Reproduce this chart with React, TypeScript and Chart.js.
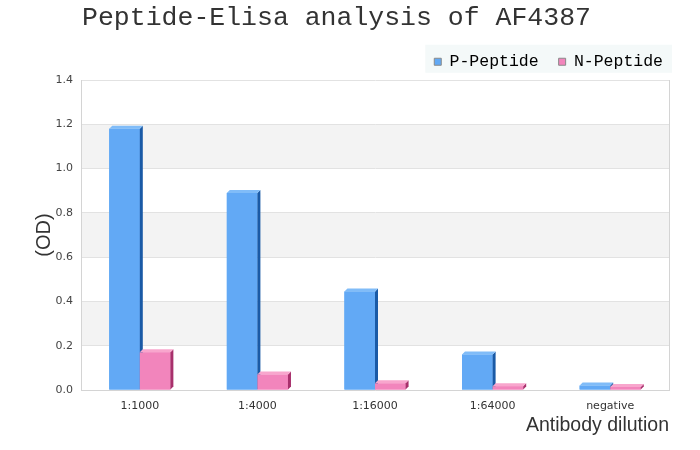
import React, { useEffect, useRef } from 'react';
import { Chart, registerables } from 'chart.js';

Chart.register(...registerables);

const categories = ['1:1000', '1:4000', '1:16000', '1:64000', 'negative'];
const pPeptide = [1.18, 0.89, 0.445, 0.16, 0.02];
const nPeptide = [0.17, 0.07, 0.03, 0.017, 0.014];
const seriesNames = ['P-Peptide', 'N-Peptide'];
const chartTitle = 'Peptide-Elisa analysis of AF4387';
const xTitle = 'Antibody dilution';
const yTitle = '(OD)';
const yMin = 0;
const yMax = 1.4;
const yStep = 0.2;

const frontColors = ['#62a9f5', '#f285bc'];
const sideColors = ['#1a5aa6', '#a8306c'];
const topColors = ['#80bcf8', '#f8a6cd'];
const DEPTH = 3;

const bandsPlugin = {
  id: 'bands',
  beforeDraw(chart: any) {
    const { ctx, chartArea, scales } = chart;
    const y = scales.y;
    ctx.save();
    // legend background
    const lg = chart.legend;
    if (lg && lg.legendHitBoxes && lg.legendHitBoxes.length) {
      const hb = lg.legendHitBoxes;
      const first = hb[0];
      const last = hb[hb.length - 1];
      const mid = first.top + first.height / 2;
      const x0 = first.left - 9;
      const x1 = last.left + last.width + 9;
      ctx.fillStyle = '#f4f9f9';
      ctx.fillRect(x0, mid - 17, x1 - x0, 28);
    }
    ctx.fillStyle = '#f3f3f3';
    let j = 0;
    for (let v = yMin; v < yMax - 1e-9; v += yStep, j++) {
      if (j % 2 === 1) {
        const top = y.getPixelForValue(v + yStep);
        const bot = y.getPixelForValue(v);
        ctx.fillRect(chartArea.left, top, chartArea.right - chartArea.left, bot - top);
      }
    }
    ctx.restore();
  },
};

const bars3dPlugin = {
  id: 'bars3d',
  afterDatasetsDraw(chart: any) {
    const { ctx } = chart;
    ctx.save();
    chart.data.datasets.forEach((_ds: any, di: number) => {
      const meta = chart.getDatasetMeta(di);
      if (meta.hidden) return;
      meta.data.forEach((el: any) => {
        const { x, y, base, width } = el.getProps(['x', 'y', 'base', 'width'], true);
        const left = x - width / 2;
        const right = x + width / 2;
        // front
        ctx.fillStyle = frontColors[di];
        ctx.fillRect(left, y, width, base - y);
        // side
        ctx.fillStyle = sideColors[di];
        ctx.beginPath();
        ctx.moveTo(right, y);
        ctx.lineTo(right + DEPTH, y - DEPTH);
        ctx.lineTo(right + DEPTH, base - DEPTH);
        ctx.lineTo(right, base);
        ctx.closePath();
        ctx.fill();
        // top
        ctx.fillStyle = topColors[di];
        ctx.beginPath();
        ctx.moveTo(left, y);
        ctx.lineTo(left + DEPTH, y - DEPTH);
        ctx.lineTo(right + DEPTH, y - DEPTH);
        ctx.lineTo(right, y);
        ctx.closePath();
        ctx.fill();
      });
    });
    ctx.restore();
  },
};

export default function App() {
  const canvasRef = useRef<HTMLCanvasElement | null>(null);

  useEffect(() => {
    if (!canvasRef.current) return;
    const chart = new Chart(canvasRef.current, {
      type: 'bar',
      data: {
        labels: categories,
        datasets: [
          {
            label: seriesNames[0],
            data: pPeptide,
            backgroundColor: frontColors[0],
            borderWidth: 0,
            categoryPercentage: 0.52,
            barPercentage: 1.0,
          },
          {
            label: seriesNames[1],
            data: nPeptide,
            backgroundColor: frontColors[1],
            borderWidth: 0,
            categoryPercentage: 0.52,
            barPercentage: 1.0,
          },
        ],
      },
      options: {
        responsive: false,
        animation: false,
        layout: { padding: { left: -10, right: 17, top: 0, bottom: 13 } },
        plugins: {
          title: {
            display: true,
            text: chartTitle,
            color: '#333333',
            font: { family: "'Liberation Mono', monospace", size: 26.5, weight: 'normal', lineHeight: 1 },
            padding: { top: 5, bottom: 2 },
          },
          legend: {
            display: true,
            position: 'top',
            align: 'end',
            labels: {
              color: '#222222',
              font: { family: "'Liberation Mono', monospace", size: 16.5 },
              boxWidth: 7,
              boxHeight: 7,
              padding: 20,
              generateLabels: (c: any) =>
                c.data.datasets.map((ds: any, i: number) => ({
                  text: ds.label,
                  fillStyle: frontColors[i],
                  strokeStyle: '#8a8a8a',
                  lineWidth: 1,
                  hidden: false,
                  datasetIndex: i,
                })),
            },
          },
          tooltip: { enabled: false },
        },
        scales: {
          x: {
            offset: true,
            grid: { display: false },
            border: { display: true, color: '#d4d4d4' },
            ticks: {
              color: '#333333',
              font: { family: "'DejaVu Sans', sans-serif", size: 11 },
              padding: 2,
              maxRotation: 0,
            },
            title: {
              display: true,
              text: xTitle,
              align: 'end',
              color: '#333333',
              font: { family: "'Liberation Sans', Arial, sans-serif", size: 19.5 },
              padding: { top: 0, bottom: 0 },
            },
            afterFit: (s: any) => {
              s.height = 47;
            },
          },
          y: {
            min: yMin,
            max: yMax,
            grid: { color: '#e2e2e2', drawTicks: false },
            border: { display: true, color: '#d4d4d4' },
            ticks: {
              stepSize: yStep,
              color: '#444444',
              font: { family: "'DejaVu Sans', sans-serif", size: 11 },
              padding: 8,
              callback: (v: any) => Number(v).toFixed(1),
            },
            title: {
              display: true,
              text: yTitle,
              color: '#333333',
              font: { family: "'Liberation Sans', Arial, sans-serif", size: 20 },
              padding: { top: 42, bottom: 0 },
            },
            afterFit: (s: any) => {
              s.width = 91;
            },
          },
          yR: {
            type: 'linear',
            position: 'right',
            display: true,
            grid: { display: false },
            ticks: { display: false },
            border: { display: true, color: '#d4d4d4' },
            afterFit: (s: any) => {
              s.width = 14;
            },
          },
        },
      } as any,
      plugins: [bandsPlugin, bars3dPlugin],
    });
    return () => chart.destroy();
  }, []);

  return (
    <div style={{ position: 'absolute', left: 0, top: 0, width: 700, height: 450 }}>
      <canvas ref={canvasRef} width={700} height={450} />
    </div>
  );
}
